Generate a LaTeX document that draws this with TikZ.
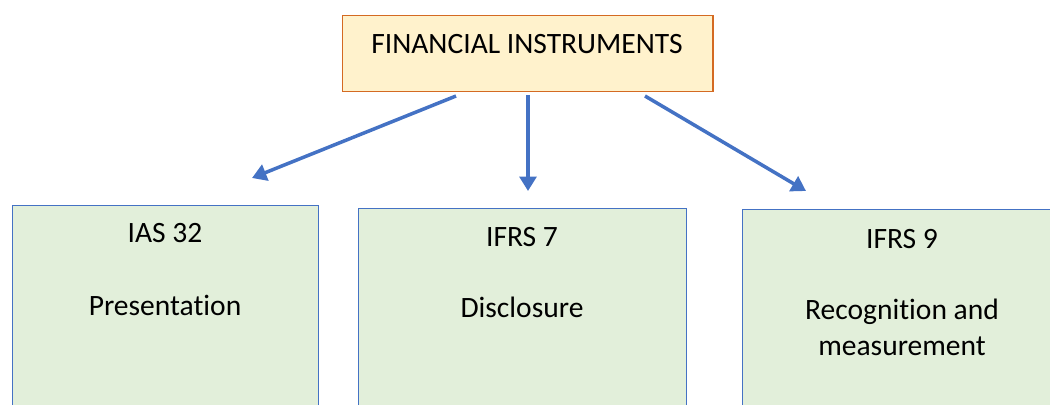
\documentclass[tikz,border=0pt]{standalone}
\usepackage{fontspec}
\setmainfont[Ligatures=NoCommon]{Carlito}
\usetikzlibrary{arrows.meta}

\definecolor{boxorange}{HTML}{D46A22}
\definecolor{boxcream}{HTML}{FFF2CC}
\definecolor{boxgreen}{HTML}{E2EFDA}
\definecolor{linkblue}{HTML}{4472C4}

\tikzset{
    headbox/.style={draw=boxorange, fill=boxcream, line width=1pt, anchor=north west,
        minimum width=9.25cm, minimum height=1.9cm, inner sep=0pt},
    stdbox/.style={draw=linkblue, fill=boxgreen, line width=0.8pt, anchor=north west,
        minimum height=5.5cm, inner sep=0pt},
    txt/.style={font=\fontsize{21}{25.5}\selectfont, align=center, inner sep=0pt},
    link/.style={draw=linkblue, line width=2.5pt, -{Triangle[length=0.36cm, width=0.42cm]}}
}

\begin{document}
\begin{tikzpicture}[x=0.025cm, y=-0.025cm]

    \useasboundingbox (0,0) rectangle (1050,405);
    \clip (0,0) rectangle (1050,405);

    % top box
    \node[headbox] (fi) at (342,15) {};
    \node[txt] (fitxt) at (527,44) {FINANCIAL INSTRUMENTS};

    % standards
    \node[stdbox, minimum width=7.65cm] (ias) at (12,205) {};
    \node[stdbox, minimum width=8.2cm] (ifrsa) at (358,208) {};
    \node[stdbox, minimum width=8.0cm] (ifrsb) at (742,209) {};

    \node[txt] (iasnum) at (165,233) {IAS 32};
    \node[txt] (iastxt) at (165,305) {Presentation};
    \node[txt] (ifrsanum) at (522,237) {IFRS 7};
    \node[txt] (ifrsatxt) at (522,307) {Disclosure};
    \node[txt] (ifrsbnum) at (902,239) {IFRS 9};
    \node[txt] (ifrsbtxt) at (902,327) {Recognition and\\measurement};

    % arrow ends
    \coordinate (s1) at (456,96);
    \coordinate (s2) at (528,95);
    \coordinate (s3) at (645,96);
    \coordinate (e1) at (252,178);
    \coordinate (e2) at (528,191);
    \coordinate (e3) at (806,191);

    \draw[link] (s1) -- (e1);
    \draw[link] (s2) -- (e2);
    \draw[link] (s3) -- (e3);

\end{tikzpicture}
\end{document}
